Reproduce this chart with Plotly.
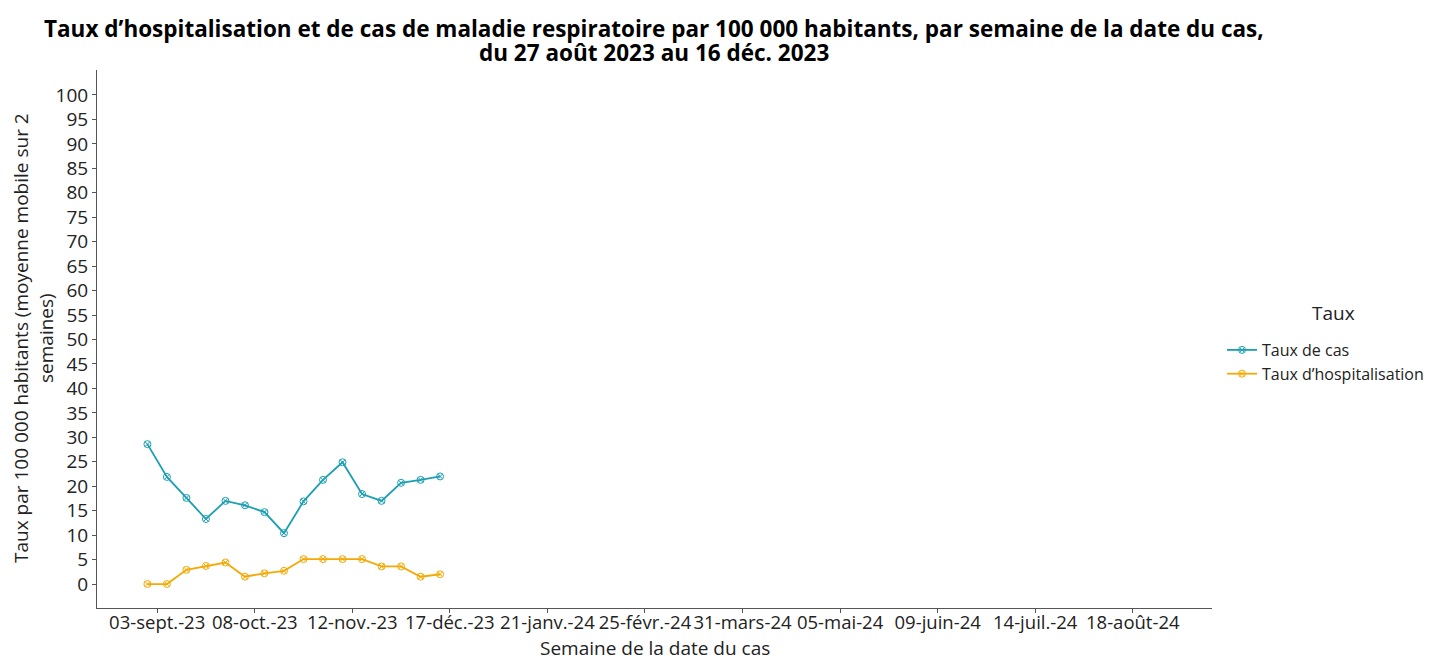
import plotly.graph_objects as go
import pandas as pd

weeks = pd.date_range("2023-08-30 12:00", periods=16, freq="7D")
taux_cas = [28.6, 21.9, 17.6, 13.3, 17.0, 16.1, 14.7, 10.4, 16.9, 21.3, 24.9, 18.4, 17.0, 20.7, 21.3, 22.0]
taux_hosp = [0.0, 0.0, 2.9, 3.7, 4.4, 1.5, 2.2, 2.7, 5.1, 5.1, 5.1, 5.1, 3.6, 3.6, 1.5, 2.0]

tick_dates = ["2023-09-03", "2023-10-08", "2023-11-12", "2023-12-17", "2024-01-21", "2024-02-25",
              "2024-03-31", "2024-05-05", "2024-06-09", "2024-07-14", "2024-08-18"]
tick_labels = ["03-sept.-23", "08-oct.-23", "12-nov.-23", "17-déc.-23", "21-janv.-24", "25-févr.-24",
               "31-mars-24", "05-mai-24", "09-juin-24", "14-juil.-24", "18-août-24"]
y_ticks = list(range(0, 101, 5))

teal = "#1b9fb3"
orange = "#f5a905"
font = "Open Sans"

fig = go.Figure()
fig.add_trace(go.Scatter(x=weeks, y=taux_cas, mode="lines+markers", name="Taux de cas",
                         line=dict(color=teal, width=1.8),
                         marker=dict(symbol="circle-x-open", size=7, color=teal, line=dict(width=1))))
fig.add_trace(go.Scatter(x=weeks, y=taux_hosp, mode="lines+markers", name="Taux d’hospitalisation",
                         line=dict(color=orange, width=1.8),
                         marker=dict(symbol="circle-x-open", size=7, color=orange, line=dict(width=1))))

H, W, T, B, L, R = 660, 1434, 70, 52, 97, 222
ph = H - T - B
pw = W - L - R
def ypx(py):
    return (H - B - py) / ph
def xpx(px):
    return (px - L) / pw

fig.update_layout(
    width=W, height=H,
    margin=dict(l=L, r=R, t=T, b=B, autoexpand=False),
    plot_bgcolor="white", paper_bgcolor="white",
    font=dict(family=font, size=17, color="#222"),
    legend=dict(x=xpx(1222), xanchor="left", y=ypx(333), yanchor="top",
                font=dict(size=16), bgcolor="rgba(0,0,0,0)", itemwidth=30, tracegroupgap=0),
    showlegend=True,
    annotations=[
        dict(text="<b>Taux d’hospitalisation et de cas de maladie respiratoire par 100 000 habitants, par semaine de la date du cas,</b>",
             x=xpx(654), xref="paper", y=ypx(28), yref="paper", xanchor="center", yanchor="middle",
             showarrow=False, font=dict(size=22.5, color="black")),
        dict(text="<b>du 27 août 2023 au 16 déc. 2023</b>",
             x=xpx(654), xref="paper", y=ypx(52), yref="paper", xanchor="center", yanchor="middle",
             showarrow=False, font=dict(size=22.5, color="black")),
        dict(text="Taux", x=xpx(1333), xref="paper", y=ypx(313), yref="paper",
             xanchor="center", yanchor="middle", showarrow=False, font=dict(size=19, color="#222")),
        dict(text="Semaine de la date du cas", x=xpx(655), xref="paper", y=ypx(648), yref="paper",
             xanchor="center", yanchor="middle", showarrow=False, font=dict(size=19, color="#222")),
        dict(text="Taux par 100 000 habitants (moyenne mobile sur 2<br>semaines)", x=xpx(33), xref="paper",
             y=ypx(338), yref="paper", xanchor="center", yanchor="middle", textangle=-90,
             showarrow=False, font=dict(size=19, color="#222")),
    ],
)

fig.update_xaxes(range=["2023-08-12 10:00", "2024-09-15 10:00"], tickvals=tick_dates, ticktext=tick_labels,
                 tickangle=0, ticklabelstandoff=-6,
                 showline=True, linecolor="#555", linewidth=1, ticks="outside", ticklen=4, tickcolor="#555",
                 showgrid=False, zeroline=False, tickfont=dict(size=18.5, color="#222"), automargin=False)
fig.update_yaxes(range=[-4.9, 105.1], tickvals=y_ticks,
                 showline=True, linecolor="#555", linewidth=1, ticks="outside", ticklen=4, tickcolor="#555",
                 showgrid=False, zeroline=False, tickfont=dict(size=19, color="#222"), automargin=False)

fig.write_html("out.html", post_script="document.body.style.margin='0';",
               config={"displayModeBar": False})
